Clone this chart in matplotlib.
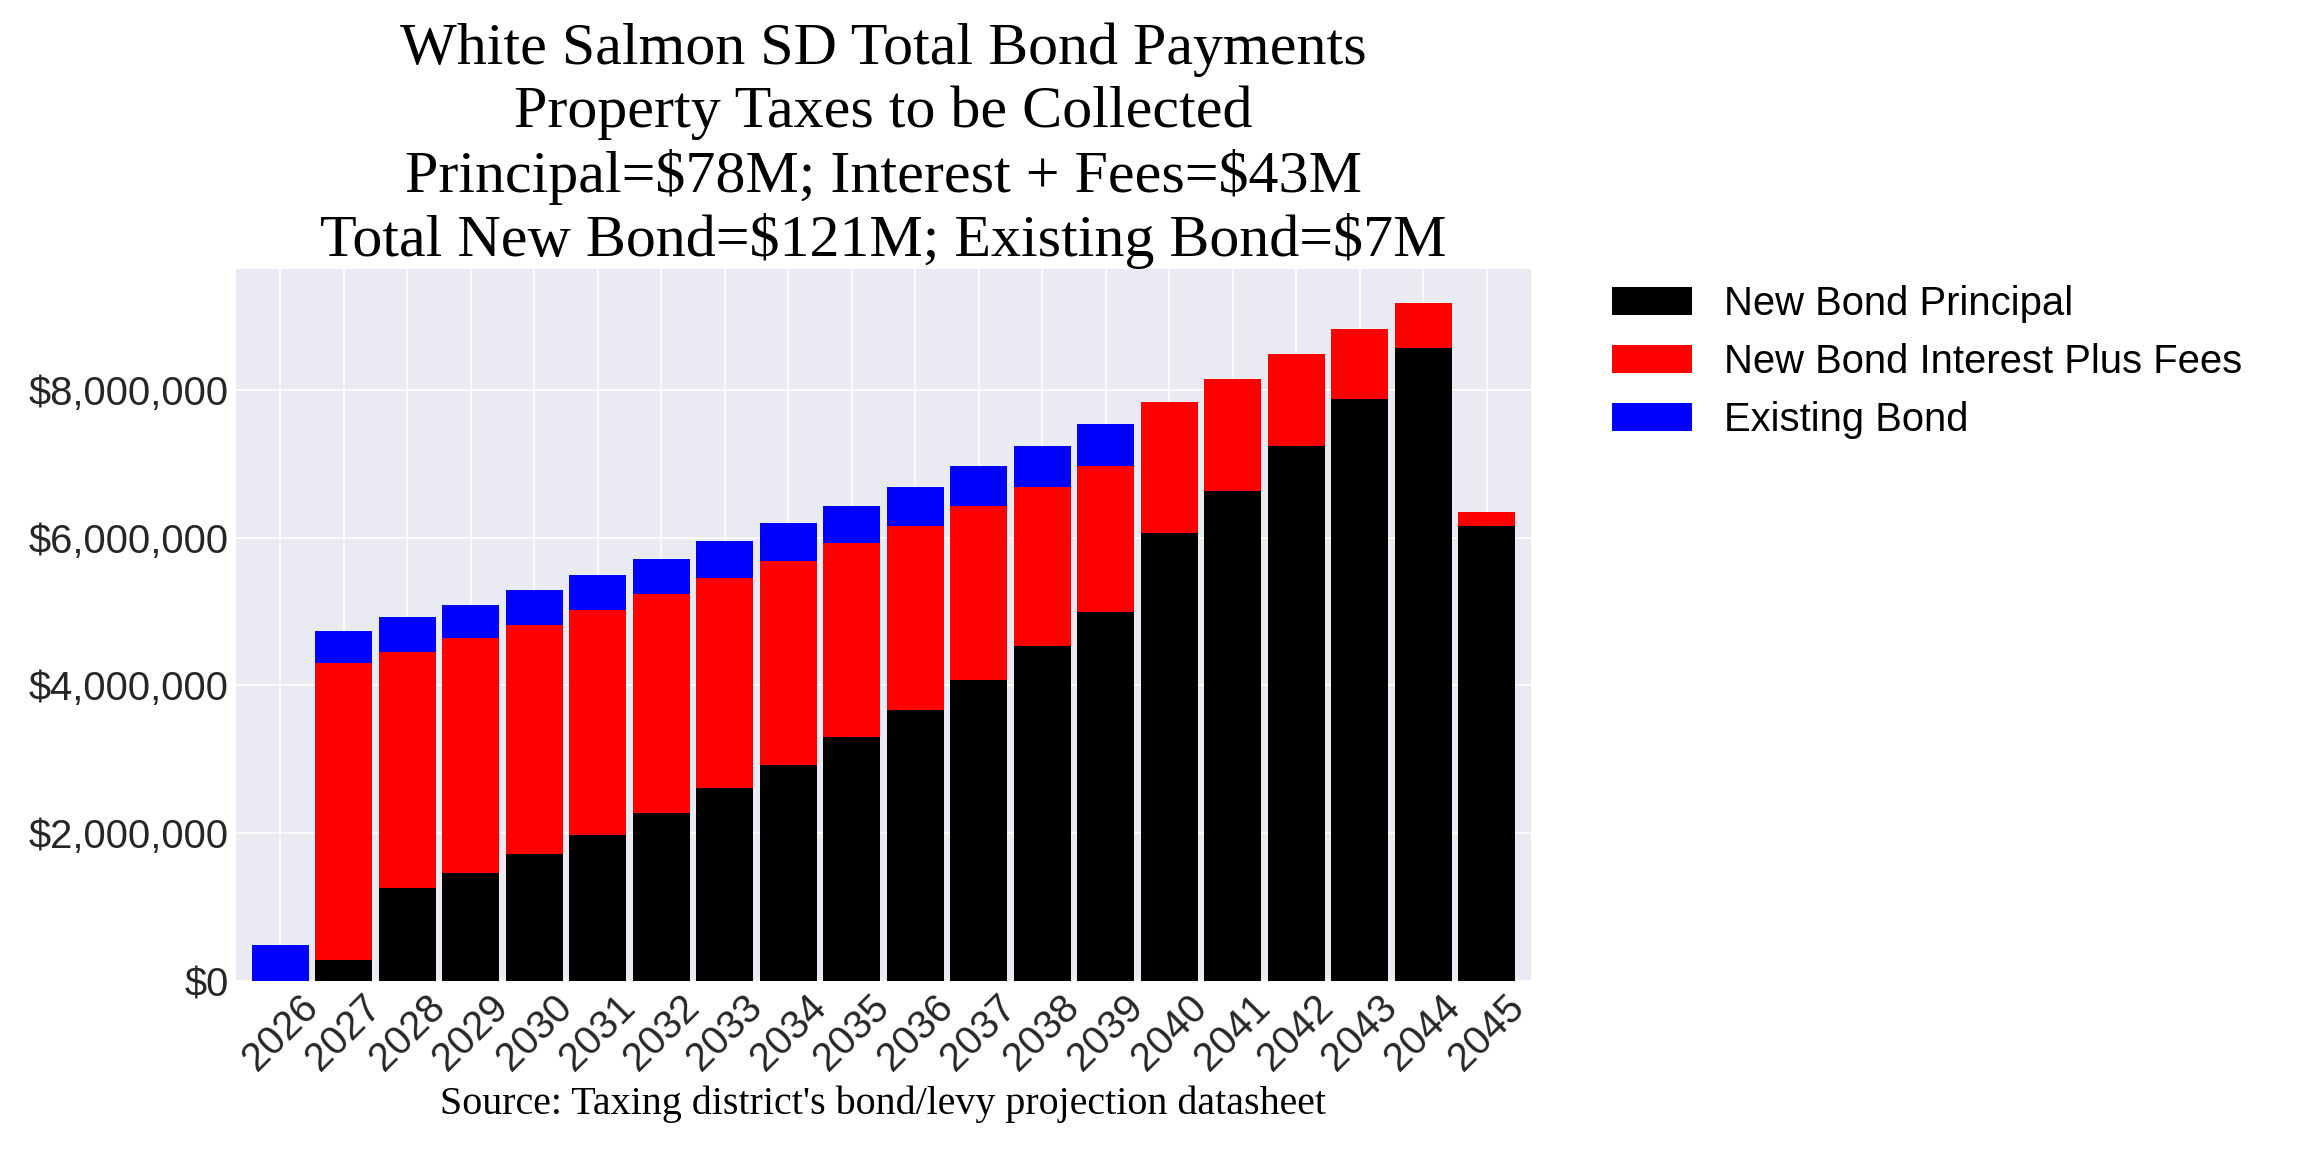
import matplotlib
matplotlib.use("Agg")
import matplotlib.pyplot as plt
import matplotlib.ticker as mticker
import numpy as np

YEARS = list(range(2026, 2046))

# values, dollars
PRINCIPAL = [0, 290000, 1257000, 1465000, 1720000, 1976000, 2280000, 2605000,
             2922000, 3295000, 3668000, 4076000, 4532000, 4995000, 6066000,
             6632000, 7240000, 7869000, 8560000, 6162000]
INTEREST = [0, 4010000, 3199000, 3171000, 3102000, 3040000, 2950000, 2853000,
            2757000, 2626000, 2494000, 2349000, 2155000, 1969000, 1761000,
            1506000, 1237000, 946000, 608000, 180000]
EXISTING = [490000, 440000, 463000, 456000, 463000, 483000, 483000, 490000,
            511000, 511000, 525000, 539000, 546000, 566000, 0, 0, 0, 0, 0, 0]

SERIES_NAMES = ["New Bond Principal", "New Bond Interest Plus Fees", "Existing Bond"]
SERIES_COLORS = ["black", "red", "blue"]

TITLE = ("White Salmon SD Total Bond Payments\n"
         "Property Taxes to be Collected\n"
         "Principal=\\$78M; Interest + Fees=\\$43M\n"
         "Total New Bond=\\$121M; Existing Bond=\\$7M")
SOURCE = "Source: Taxing district's bond/levy projection datasheet"


def main():
    plt.style.use("seaborn-v0_8-darkgrid")
    plt.rcParams["font.family"] = ["Liberation Sans", "DejaVu Sans"]

    fig = plt.figure(figsize=(16, 8), dpi=144)
    ax = fig.add_axes([0.1024, 0.1484, 0.5621, 0.6177])

    x = np.arange(len(YEARS))
    bottom = np.zeros(len(YEARS))
    for name, vals, color in zip(SERIES_NAMES, [PRINCIPAL, INTEREST, EXISTING], SERIES_COLORS):
        vals = np.array(vals, dtype=float)
        ax.bar(x, vals, width=0.9, bottom=bottom, color=color, label=name)
        bottom += vals

    #   pandas-like limits: 5% headroom above the tallest stack
    ax.set_xlim(-0.7, 19.7)
    ax.set_ylim(0, bottom.max() * 1.05)
    ax.set_xticks(x)
    ax.set_xticklabels([str(y) for y in YEARS], rotation=45, fontsize=20, color="0.15")
    ax.yaxis.set_major_formatter(mticker.StrMethodFormatter("${x:,.0f}"))
    ax.tick_params(axis="y", labelsize=20, labelcolor="0.15")

    ax.set_title(TITLE, fontsize=30, family="Liberation Serif", color="black")
    ax.set_xlabel(SOURCE, fontsize=20, family="Liberation Serif", color="black")

    leg = ax.legend(bbox_to_anchor=(1.05, 1), loc=2, borderaxespad=0.0,
                    fontsize=20, frameon=False)
    for t in leg.get_texts():
        t.set_color("black")

    fig.savefig("out.png", dpi=144)


if __name__ == "__main__":
    main()
